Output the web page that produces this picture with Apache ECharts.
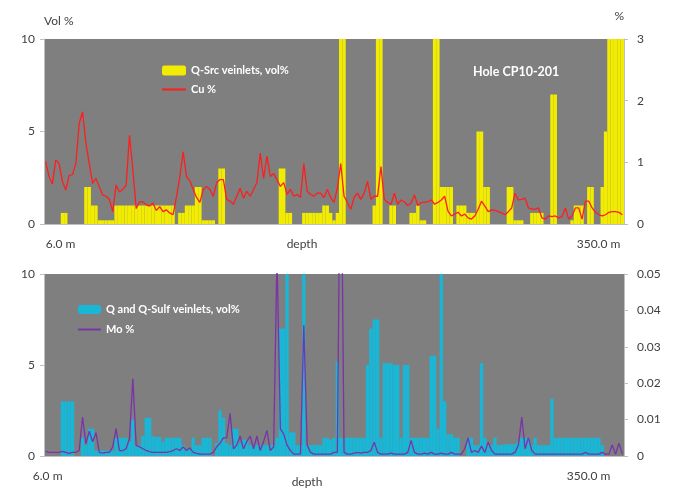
<!DOCTYPE html>
<html>
<head>
<meta charset="utf-8">
<script src="https://cdn.jsdelivr.net/npm/echarts@6/dist/echarts.min.js"></script>
<style>
html,body{margin:0;padding:0;background:#fff;}
#c{width:676px;height:492px;}
</style>
</head>
<body>
<div id="c"></div>
<script>
// ---- data (one sample every 2 m, 6.0 m to 350.0 m) ----
const depthStart = 6.0, depthStep = 2.0, sampleCount = 173;
const depthTickLabels = ['6.0 m', '350.0 m'];
const axisTitle = 'depth';
const holeName = 'Hole CP10-201';

// Q-Src veinlets, vol% (top bars)
const qSrcVol = [
0,0,0,0,0,0.6,0.6,0,0,0,
0,0,2,2,1,1,0.2,0.2,0.2,0.2,
0.2,1,1,1,1,1,1,1,1,1,
1,1,1,1,1,1,1,1,1,0,
0.6,0.6,1,1,1,2,2,0.2,0.2,0.2,
0.2,0,3,3,0,0,0,0,0,0,
0,0,0,0,0,0,0,0,0,0,
3,3,0.6,0.6,0,0,0,0.6,0.6,0.6,
0.6,0.6,0.6,1,1,0.6,0.2,0.6,10,10,
0,0,0,0,0,0,0,0,1,10,
10,0,0,1,1,0,0,0,0,0.6,
0.6,1,0.2,0.2,0,0,10,10,2,2,
2,2,0,1,1,1,0.6,0.6,0.6,5,
5,2,2,0,0,0,0,0,2,2,
0.2,0.2,0.2,0,0,0.6,0.6,0.6,0.6,0,
0,7,7,0,0,0,0,0.2,1,1,
1,0,2,2,0,0,2,5,10,10,
10,10,10
];

// Cu % (top line)
const cuPct = [
1.01,0.77,0.65,1.04,0.98,0.69,0.55,0.79,0.80,0.98,
1.63,1.82,1.31,0.98,0.66,0.74,0.60,0.47,0.45,0.40,
0.20,0.63,0.52,0.56,0.63,1.44,0.88,0.25,0.36,0.36,
0.31,0.29,0.34,0.22,0.28,0.20,0.23,0.18,0.15,0.44,
0.76,1.17,0.77,0.70,0.56,0.43,0.35,0.56,0.61,0.56,
0.45,0.67,0.72,0.72,0.40,0.37,0.32,0.45,0.58,0.42,
0.53,0.45,0.56,0.67,1.15,0.74,1.10,0.77,0.82,0.72,
0.61,0.67,0.48,0.56,0.45,0.48,0.43,0.98,0.53,0.48,
0.45,0.50,0.50,0.43,0.56,0.43,0.35,0.58,0.98,0.45,
0.35,0.24,0.43,0.50,0.40,0.50,0.69,0.40,0.45,0.45,
0.93,0.40,0.35,0.32,0.50,0.32,0.39,0.36,0.30,0.34,
0.47,0.30,0.35,0.35,0.36,0.39,0.32,0.35,0.39,0.45,
0.21,0.13,0.16,0.19,0.13,0.16,0.10,0.08,0.13,0.24,
0.37,0.29,0.20,0.23,0.22,0.20,0.18,0.15,0.20,0.26,
0.50,0.39,0.40,0.42,0.26,0.24,0.24,0.26,0.10,0.08,
0.13,0.12,0.13,0.10,0.12,0.26,0.08,0.13,0.26,0.26,
0.08,0.37,0.37,0.26,0.19,0.15,0.13,0.15,0.19,0.20,
0.20,0.19,0.15
];

// Q and Q-Sulf veinlets, vol% (bottom bars)
const qSulfVol = [
0,0,0,0,0,3,3,3,3,0,
0,1,0.6,1.5,1.5,0.3,0.3,0.3,0.3,0.3,
0.3,1,1,1,1,0.8,2,0.6,0.6,1.1,
2.1,2.1,1.1,1.05,1.05,0.8,1,1,1,1,
1,0.6,0.4,0.4,1,0.6,0.6,1,1,1,
0,0.7,2.5,2.1,0.7,0.6,1.5,1.5,0.7,0.9,
0.9,0.6,0.6,0.6,0.6,0.6,0.6,0.6,0.6,1,
7,7,10,1.3,1.3,0.6,0.6,10,0.6,0.6,
0.6,0.6,0.6,1,1,0.9,1,5.2,1,1,
1,1,1,1,1,1,5,7,7.5,7.5,
1,5.1,5.1,5.1,5,5,1,5,5,1,
1,1,1,1,1,5.5,5.5,1.5,10,3,
1.2,1.2,1,1,0,0,1,1,0.6,0.6,
5.1,1,0.6,0.6,1,0.6,0.6,0.65,0.65,0.65,
0.65,0.8,1,1,1,0.6,1,0.6,0.6,0.6,
0.6,3.15,1,1,1,1,1,1,1,1,
1,1,1,1,1,1,0.6,0,0,0,
0,0,0
];

// Mo % (bottom line)
const moPct = [
0.0013,0.0010,0.0010,0.0010,0.0010,0.0013,0.0010,0.0007,0.0010,0.0010,
0.0015,0.0107,0.0034,0.0068,0.0039,0.0064,0.0010,0.0008,0.0010,0.0010,
0.0025,0.0075,0.0015,0.0015,0.0020,0.0048,0.0213,0.0029,0.0025,0.0020,
0.0015,0.0012,0.0010,0.0010,0.0010,0.0010,0.0010,0.0012,0.0015,0.0020,
0.0015,0.0025,0.0015,0.0022,0.0010,0.0007,0.0005,0.0005,0.0005,0.0005,
0.0010,0.0025,0.0035,0.0050,0.0050,0.0117,0.0020,0.0030,0.0055,0.0020,
0.0040,0.0055,0.0020,0.0055,0.0015,0.0040,0.0070,0.0015,0.0025,0.0550,
0.0075,0.0060,0.0030,0.0015,0.0005,0.0005,0.0005,0.0360,0.0030,0.0010,
0.0005,0.0005,0.0005,0.0005,0.0005,0.0005,0.0010,0.0010,0.1000,0.0010,
0.0005,0.0005,0.0008,0.0010,0.0008,0.0010,0.0010,0.0015,0.0038,0.0010,
0.0005,0.0005,0.0005,0.0008,0.0005,0.0005,0.0005,0.0005,0.0010,0.0043,
0.0010,0.0005,0.0005,0.0008,0.0005,0.0010,0.0005,0.0005,0.0008,0.0005,
0.0005,0.0010,0.0005,0.0005,0.0005,0.0020,0.0050,0.0010,0.0015,0.0010,
0.0027,0.0010,0.0038,0.0015,0.0005,0.0005,0.0005,0.0005,0.0005,0.0005,
0.0010,0.0030,0.0107,0.0020,0.0050,0.0015,0.0005,0.0005,0.0005,0.0005,
0.0005,0.0005,0.0005,0.0005,0.0005,0.0005,0.0005,0.0005,0.0005,0.0005,
0.0005,0.0010,0.0005,0.0005,0.0005,0.0005,0.0010,0.0005,0.0005,0.0030,
0.0005,0.0035,0.0005
];

const depthCategories = [];
for (let i = 0; i < sampleCount; i++) depthCategories.push((depthStart + depthStep * i).toFixed(1) + ' m');

const FONT = 'Lato, "Open Sans", sans-serif';
const axisGray = '#bfbfbf';
const labelColor = '#404040';
const plotBg = '#7f7f7f';
const lineIcon = 'path://M0,0H24V2H0Z';

function xAxisFor(grid, cfg) {
  return {
    type: 'category', gridIndex: grid, data: depthCategories, boundaryGap: true,
    axisLine: { show: true, lineStyle: { color: axisGray, width: 1 } },
    axisTick: { show: false },
    splitLine: { show: false },
    axisLabel: {
      interval: (idx) => idx === 0 || idx === sampleCount - 1,
      formatter: (v, idx) => idx === 0 ? '{l|' + depthTickLabels[0] + '}' : '{r|' + depthTickLabels[1] + '}',
      color: labelColor, fontFamily: FONT, fontSize: 12, margin: cfg.margin,
      alignMinLabel: cfg.minAlign, alignMaxLabel: 'right',
      rich: {
        l: { color: labelColor, fontFamily: FONT, fontSize: 12, padding: [0, 0, 0, cfg.padL] },
        r: { color: labelColor, fontFamily: FONT, fontSize: 12, padding: [0, cfg.padR, 0, 0] }
      }
    },
    name: axisTitle, nameLocation: 'middle', nameGap: cfg.nameGap, nameMoveOverlap: false,
    nameTextStyle: { color: labelColor, fontFamily: FONT, fontSize: 12, padding: [0, cfg.nameShift, 0, 0] }
  };
}
function yAxisFor(grid, pos, max, interval, fmt) {
  return {
    type: 'value', gridIndex: grid, position: pos, min: 0, max: max, interval: interval,
    axisLine: { show: true, lineStyle: { color: axisGray } },
    axisTick: { show: true, length: 4, lineStyle: { color: axisGray } },
    splitLine: { show: false },
    axisLabel: { color: labelColor, fontFamily: FONT, fontSize: 12, margin: pos === 'left' ? 9 : 13, formatter: fmt }
  };
}

const chart = echarts.init(document.getElementById('c'), null, { renderer: 'canvas' });
chart.setOption({
  animation: false,
  backgroundColor: '#ffffff',
  title: {
    text: holeName, left: 473, top: 65, padding: 0,
    textStyle: { color: '#ffffff', fontFamily: FONT, fontWeight: 'bold', fontSize: 12.5 }
  },
  legend: [
    {
      data: [{ name: 'Q-Src veinlets, vol%' }, { name: 'Cu %', icon: lineIcon }],
      orient: 'vertical', left: 162, top: 65, padding: 0,
      itemWidth: 24, itemHeight: 10, itemGap: 8,
      textStyle: { color: '#ffffff', fontFamily: FONT, fontWeight: 'bold', fontSize: 11 }
    },
    {
      data: [{ name: 'Q and Q-Sulf veinlets, vol%' }, { name: 'Mo %', icon: lineIcon }],
      orient: 'vertical', left: 78, top: 304, padding: 0,
      itemWidth: 23, itemHeight: 9, itemGap: 9,
      textStyle: { color: '#ffffff', fontFamily: FONT, fontWeight: 'bold', fontSize: 11 }
    }
  ],
  grid: [
    { left: 44, top: 39, width: 580, height: 185, show: true, backgroundColor: plotBg, borderWidth: 0, outerBoundsMode: 'none' },
    { left: 44, top: 274, width: 580, height: 182, show: true, backgroundColor: plotBg, borderWidth: 0, outerBoundsMode: 'none' }
  ],
  xAxis: [
    xAxisFor(0, { margin: 14, minAlign: 'left', padL: 0, padR: 2, nameGap: 14, nameShift: 64 }),
    xAxisFor(1, { margin: 14, minAlign: 'center', padL: 4, padR: 12, nameGap: 20, nameShift: 54 })
  ],
  yAxis: [
    Object.assign(yAxisFor(0, 'left', 10, 5), {
      name: 'Vol %', nameLocation: 'end', nameGap: 12,
      nameTextStyle: { color: labelColor, fontFamily: FONT, fontSize: 12, align: 'left' }
    }),
    Object.assign(yAxisFor(0, 'right', 3, 1), {
      name: '%', nameLocation: 'end', nameGap: 17,
      nameTextStyle: { color: labelColor, fontFamily: FONT, fontSize: 12, align: 'right' }
    }),
    yAxisFor(1, 'left', 10, 5),
    yAxisFor(1, 'right', 0.05, 0.01, (v) => v === 0 ? '0' : v.toFixed(2))
  ],
  series: [
    {
      name: 'Q-Src veinlets, vol%', type: 'bar', xAxisIndex: 0, yAxisIndex: 0,
      data: qSrcVol, barCategoryGap: '0%', itemStyle: { color: '#f2ec00' }, clip: true
    },
    {
      name: 'Cu %', type: 'line', xAxisIndex: 0, yAxisIndex: 1, data: cuPct,
      symbol: 'none', lineStyle: { color: '#ff1e1e', width: 1.3 }, itemStyle: { color: '#ff1e1e' }, clip: true
    },
    {
      name: 'Q and Q-Sulf veinlets, vol%', type: 'bar', xAxisIndex: 1, yAxisIndex: 2,
      data: qSulfVol, barCategoryGap: '0%', itemStyle: { color: '#19b6d6' }, clip: true
    },
    {
      name: 'Mo %', type: 'line', xAxisIndex: 1, yAxisIndex: 3, data: moPct,
      symbol: 'none', lineStyle: { color: '#7a33a8', width: 1.3 }, itemStyle: { color: '#7a33a8' }, clip: true
    }
  ]
});
</script>
</body>
</html>
